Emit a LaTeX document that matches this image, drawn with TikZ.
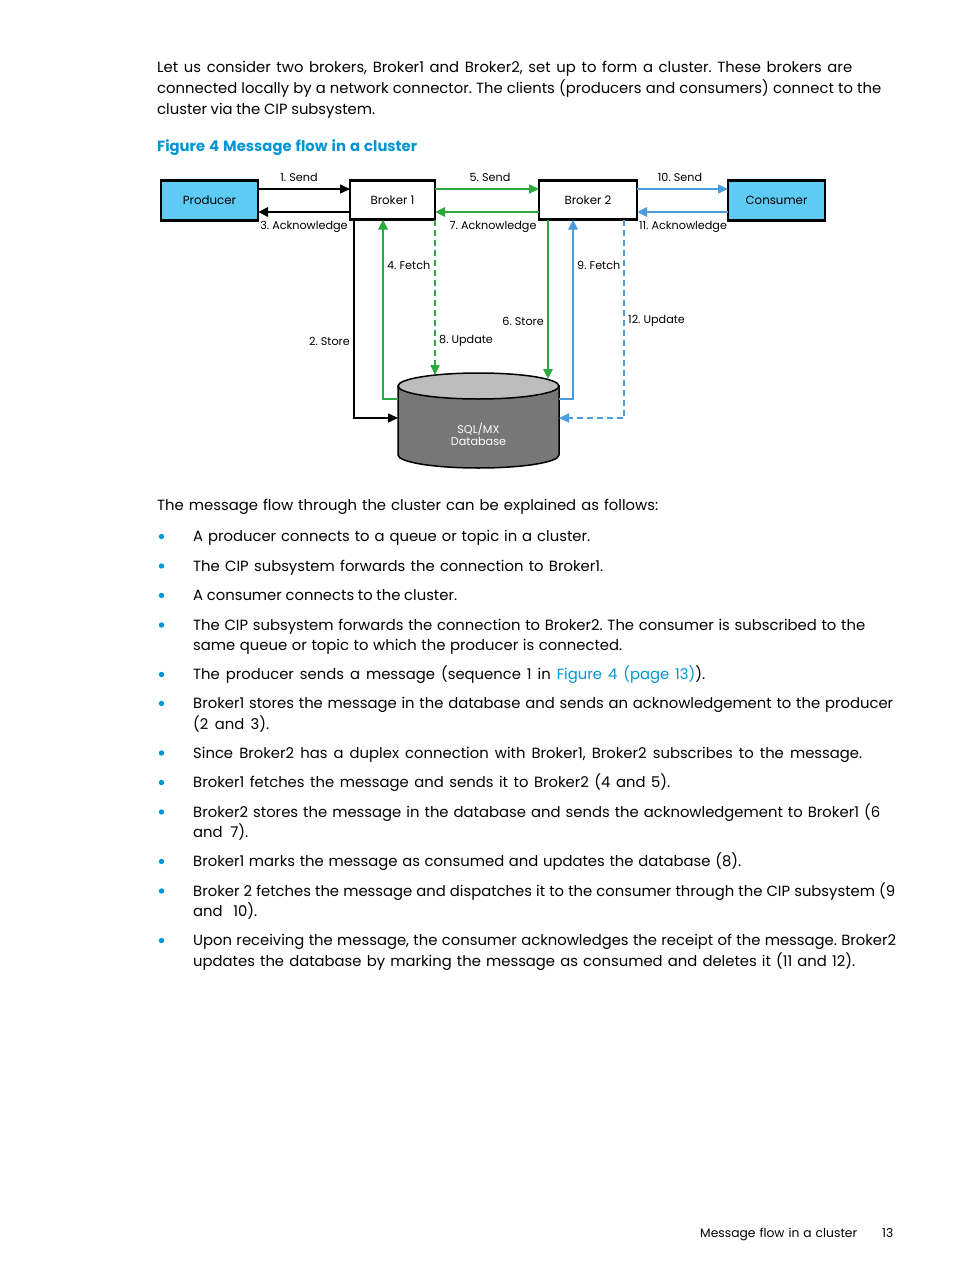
\documentclass[tikz,border=0pt]{standalone}
\usepackage{fontspec}
\setmainfont{Poppins}
\usetikzlibrary{arrows.meta}
\definecolor{hpblue}{HTML}{0096D6}
\definecolor{cyanfill}{HTML}{5DCBF3}
\definecolor{flowgreen}{HTML}{2BA940}
\definecolor{flowblue}{HTML}{4A9EDF}
\definecolor{dbtopfill}{HTML}{BDBDBD}
\definecolor{dbbodyfill}{HTML}{777777}
\newcommand\bodyfnt{\fontsize{14.8}{17}\selectfont}
\newcommand\lblfnt{\fontsize{11.2}{13}\selectfont}
\newcommand\boxfnt{\fontsize{11.8}{13}\selectfont}
\newcommand\titlefnt{\fontsize{14.8}{17}\selectfont\bfseries}
\newcommand\ml[2]{\makebox[#1pt][s]{#2}}
\frenchspacing
\begin{document}
\begin{tikzpicture}[x=1pt,y=-1pt,
  ln/.style={anchor=base west, inner sep=0pt, font=\bodyfnt},
  lbl/.style={inner sep=0pt, font=\lblfnt},
  box/.style={draw=black, line width=2.2pt, minimum height=40pt, inner sep=0pt, outer sep=0pt, font=\boxfnt},
  thinln/.style={line width=1.4pt},
  thickln/.style={line width=2.6pt},
  tip/.style={-{Triangle[length=10pt,width=9pt]}},
  dashln/.style={line width=2.2pt, dash pattern=on 6pt off 4pt},
  bul/.style={fill=hpblue},
]
\fill[white] (0,0) rectangle (954,1271);
\useasboundingbox (0,0) rectangle (954,1271);

% ---------- intro text ----------
\node[ln] (i1) at (157,72.5) {\ml{695}{Let us consider two brokers, Broker1 and Broker2, set up to form a cluster. These brokers are}};
\node[ln] (i2) at (157,93.5) {\ml{724}{connected locally by a network connector. The clients (producers and consumers) connect to the}};
\node[ln] (i3) at (157,114.5) {\ml{218}{cluster via the CIP subsystem.}};
\node[ln, font=\titlefnt, text=hpblue] (title) at (157,151.5) {\ml{260}{Figure 4 Message flow in a cluster}};

% ---------- diagram ----------
\node[box, fill=cyanfill, minimum width=97pt] (prod) at (209.5,200.5) {Producer};
\node[box, fill=white, minimum width=85pt, minimum height=39pt] (b1) at (392.5,200) {Broker 1};
\node[box, fill=white, minimum width=98pt, minimum height=39pt] (b2) at (588,200) {Broker 2};
\node[box, fill=cyanfill, minimum width=97pt] (cons) at (776.5,200.5) {Consumer};

% database cylinder
\path[fill=dbbodyfill, draw=black, line width=1.5pt] (398,386) -- (398,455)
  arc[start angle=180, end angle=0, x radius=80.5, y radius=13] -- (559,386) -- cycle;
\draw[fill=dbtopfill, line width=1.5pt] (478.5,386) ellipse[x radius=80.5, y radius=13];
\node[minimum width=161pt, minimum height=68pt, inner sep=0pt, outer sep=0pt] (db) at (478.5,420) {};
\node[inner sep=0pt, font=\lblfnt, text=white, align=center] (dbtxt) at (478.5,434) {SQL/MX\\[-1pt]Database};
\coordinate (u8) at (435,375);
\coordinate (s6) at (548,379);

% horizontal flows
\draw[thinln, tip] ([yshift=11.5pt]prod.east) -- ([yshift=11pt]b1.west);
\draw[thickln, tip] ([yshift=-12pt]b1.west) -- ([yshift=-11.5pt]prod.east);
\draw[thinln, flowgreen, tip] ([yshift=11pt]b1.east) -- ([yshift=11pt]b2.west);
\draw[thickln, flowgreen, tip] ([yshift=-12pt]b2.west) -- ([yshift=-12pt]b1.east);
\draw[thinln, flowblue, tip] ([yshift=11pt]b2.east) -- ([yshift=11.5pt]cons.west);
\draw[thickln, flowblue, tip] ([yshift=-11.5pt]cons.west) -- ([yshift=-12pt]b2.east);

% vertical flows
\draw[thinln, tip] ([xshift=4pt]b1.south west) |- ([yshift=2pt]db.west);
\draw[thickln, flowgreen, tip] ([yshift=21pt]db.west) -| ([xshift=33pt]b1.south west);
\draw[dashln, flowgreen, tip] (b1.south east) -- (u8);
\draw[thickln, flowgreen, tip] ([xshift=9pt]b2.south west) -- (s6);
\draw[thickln, flowblue, tip] ([yshift=21pt]db.east) -| ([xshift=34pt]b2.south west);
\draw[dashln, flowblue, tip] ([xshift=-13pt]b2.south east) |- ([yshift=2pt]db.east);

% labels
\node[lbl] (l1) at (299,177) {1. Send};
\node[lbl] (l3) at (304,227) {3. Acknowledge};
\node[lbl] (l5) at (490,177) {5. Send};
\node[lbl] (l7) at (493,227) {7. Acknowledge};
\node[lbl] (l10) at (680,177) {10. Send};
\node[lbl] (l11) at (683,227) {11. Acknowledge};
\node[lbl, anchor=east] (l2) at (350,341) {2. Store};
\node[lbl, anchor=west] (l4) at (387,265.5) {4. Fetch};
\node[lbl, anchor=west] (l8) at (439,341) {8. Update};
\node[lbl, anchor=east] (l6) at (544,321) {6. Store};
\node[lbl, anchor=west] (l9) at (577,265.5) {9. Fetch};
\node[lbl, anchor=west] (l12) at (628,321) {12. Update};

% ---------- explanation ----------
\node[ln] (lead) at (157,510.5) {\ml{501}{The message flow through the cluster can be explained as follows:}};

\foreach \yy in {541.5,571,600.5,630,679.5,708.5,758,787.5,817,866.5,896,945.5}
  \fill[bul] (161.5,\yy-5) circle (2.7pt);

\node[ln] (b01) at (193,541.5) {\ml{397}{A producer connects to a queue or topic in a cluster.}};
\node[ln] (b02) at (193,571) {\ml{410}{The CIP subsystem forwards the connection to Broker1.}};
\node[ln] (b03) at (193,600.5) {\ml{264}{A consumer connects to the cluster.}};
\node[ln] (b04a) at (193,630) {\ml{672}{The CIP subsystem forwards the connection to Broker2. The consumer is subscribed to the}};
\node[ln] (b04b) at (193,650.5) {\ml{429}{same queue or topic to which the producer is connected.}};
\node[ln] (b05) at (193,679.5) {\ml{512}{The producer sends a message (sequence 1 in \textcolor{hpblue}{Figure 4 (page 13)}).}};
\node[ln] (b06a) at (193,708.5) {\ml{700}{Broker1 stores the message in the database and sends an acknowledgement to the producer}};
\node[ln] (b06b) at (193,729) {\ml{76}{(2 and 3).}};
\node[ln] (b07) at (193,758) {\ml{669}{Since Broker2 has a duplex connection with Broker1, Broker2 subscribes to the message.}};
\node[ln] (b08) at (193,787.5) {\ml{477}{Broker1 fetches the message and sends it to Broker2 (4 and 5).}};
\node[ln] (b09a) at (193,817) {\ml{687}{Broker2 stores the message in the database and sends the acknowledgement to Broker1 (6}};
\node[ln] (b09b) at (193,837.5) {\ml{55}{and 7).}};
\node[ln] (b10) at (193,866.5) {\ml{548}{Broker1 marks the message as consumed and updates the database (8).}};
\node[ln] (b11a) at (193,896) {\ml{702}{Broker 2 fetches the message and dispatches it to the consumer through the CIP subsystem (9}};
\node[ln] (b11b) at (193,916) {\ml{64}{and 10).}};
\node[ln] (b12a) at (193,945.5) {\ml{703}{Upon receiving the message, the consumer acknowledges the receipt of the message. Broker2}};
\node[ln] (b12b) at (193,966) {\ml{662}{updates the database by marking the message as consumed and deletes it (11 and 12).}};

% ---------- footer ----------
\node[ln, font=\fontsize{12.3}{15}\selectfont] (foot) at (700,1237) {\ml{157}{Message flow in a cluster}};
\node[ln, font=\fontsize{12.3}{15}\selectfont] (pg) at (882,1237) {13};
\end{tikzpicture}
\end{document}
